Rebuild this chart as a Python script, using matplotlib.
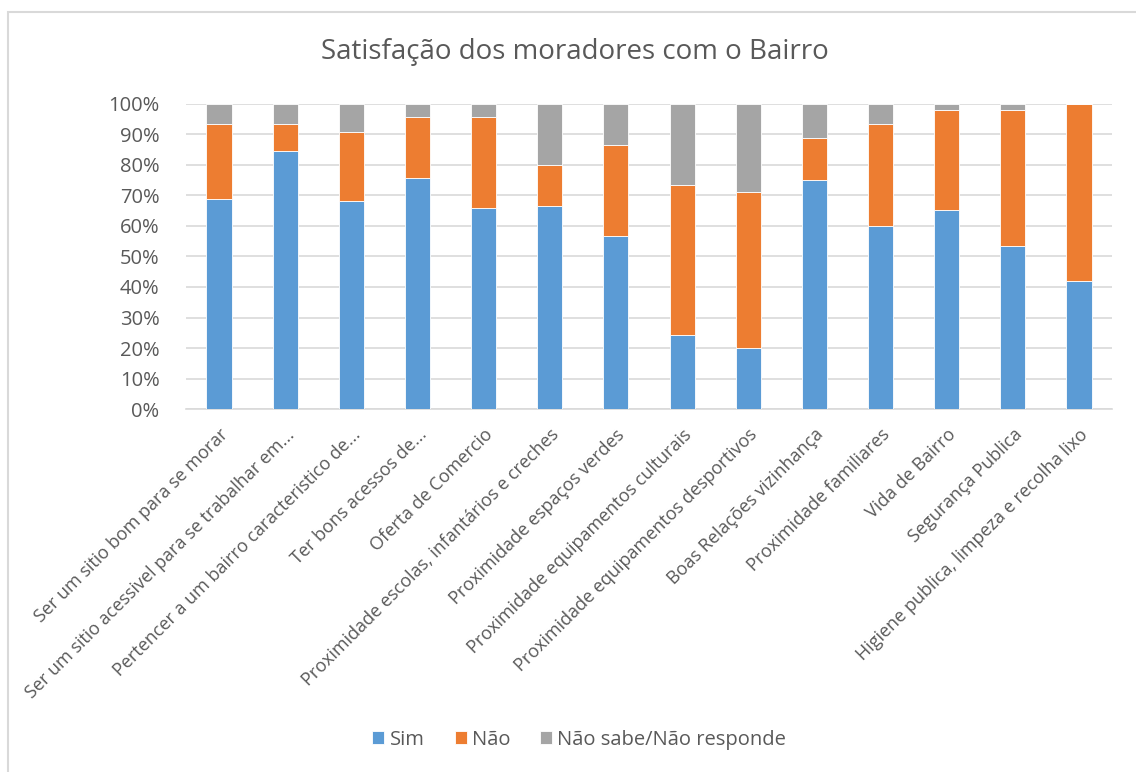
import matplotlib
matplotlib.use('Agg')
import matplotlib.pyplot as plt
import numpy as np
from matplotlib.patches import Rectangle

# Categorias e valores (%)
categorias = [
    'Ser um sitio bom para se morar',
    'Ser um sitio acessivel para se trabalhar em...',
    'Pertencer a um bairro caracteristico de...',
    'Ter bons acessos de...',
    'Oferta de Comercio',
    'Proximidade escolas, infantários e creches',
    'Proximidade espaços verdes',
    'Proximidade equipamentos culturais',
    'Proximidade equipamentos desportivos',
    'Boas Relações vizinhança',
    'Proximidade familiares',
    'Vida de Bairro',
    'Segurança Publica',
    'Higiene publica, limpeza e recolha lixo',
]
sim = [68.9, 84.6, 68.3, 75.7, 65.9, 66.7, 56.8, 24.3, 19.9, 75.2, 60.1, 65.2, 53.4, 42.1]
nao = [24.4, 8.7, 22.5, 19.9, 29.7, 13.2, 29.6, 49.0, 51.2, 13.5, 33.2, 32.7, 44.5, 57.9]
nsnr = [6.7, 6.7, 9.2, 4.4, 4.4, 20.1, 13.6, 26.7, 28.9, 11.3, 6.7, 2.1, 2.1, 0.0]

plt.rcParams['font.family'] = ['Open Sans', 'DejaVu Sans']
cinza = '#595959'

fig = plt.figure(figsize=(11.36, 7.72), dpi=100)
ax = fig.add_axes([0.1637, 0.4702, 0.8152, 0.3951])

x = np.arange(len(categorias))
largura = 0.38
base2 = np.array(sim) + np.array(nao)
ax.bar(x, sim, largura, color='#5B9BD5', edgecolor='white', linewidth=0.6, label='Sim', zorder=3)
ax.bar(x, nao, largura, bottom=sim, color='#ED7D31', edgecolor='white', linewidth=0.6, label='Não', zorder=3)
ax.bar(x, nsnr, largura, bottom=base2, color='#A5A5A5', edgecolor='white', linewidth=0.6,
       label='Não sabe/Não responde', zorder=3)

ax.set_xlim(-0.5, len(categorias) - 0.5)
ax.set_ylim(0, 100)
ax.set_yticks(range(0, 101, 10))
ax.set_yticklabels([f'{v}%' for v in range(0, 101, 10)], fontsize=14.5, color=cinza)
ax.yaxis.grid(True, color='#D9D9D9', linewidth=1.2, zorder=0)
ax.set_xticks(x)
ax.set_xticklabels(categorias, rotation=45, ha='right', rotation_mode='anchor',
                   fontsize=13, color=cinza)
ax.tick_params(axis='both', length=0)
ax.tick_params(axis='y', pad=19)
ax.tick_params(axis='x', pad=12)
for s in ['top', 'right', 'left']:
    ax.spines[s].set_visible(False)
ax.spines['bottom'].set_color('#D9D9D9')
ax.spines['bottom'].set_linewidth(1.2)

fig.text(0.506, 0.933, 'Satisfação dos moradores com o Bairro', ha='center', va='center',
         fontsize=20, color=cinza)

fig.legend(loc='center', bbox_to_anchor=(0.51, 0.042), ncol=3, frameon=False,
           fontsize=14.5, labelcolor=cinza, handlelength=0.6, handleheight=0.6,
           handletextpad=0.25, columnspacing=1.5)

fig.patches.append(Rectangle((0.007, -0.1), 1.1, 1.0845, transform=fig.transFigure,
                             fill=False, edgecolor='#D9D9D9', linewidth=1.5))

fig.savefig('out.png', dpi=100)
